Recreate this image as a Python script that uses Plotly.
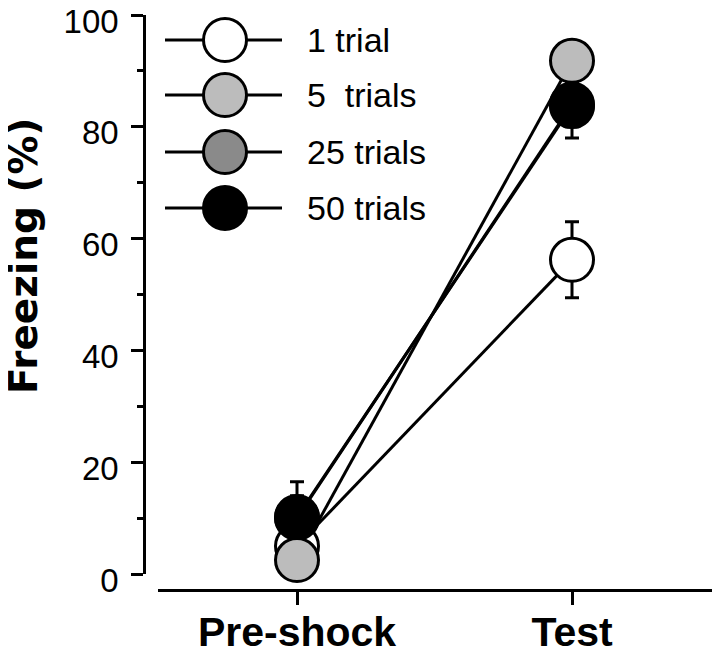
import plotly.graph_objects as go

# ---------------- data ----------------
categories = ["Pre-shock", "Test"]
series_names = ["1 trial", "5\u00a0 trials", "25 trials", "50 trials"]
trial1 = [5.0, 56.2]
trial1_err = [3.0, 6.8]
trial5 = [2.5, 91.8]
trial5_err = [2.0, 3.0]
trial25 = [10.0, 84.0]
trial25_err = [4.0, 4.0]
trial50 = [10.2, 83.7]
trial50_err = [6.3, 5.7]
y_tick_vals = [0, 20, 40, 60, 80, 100]
y_tick_text = ["0", "20", "40", "60", "80", "100"]

values = [trial1, trial5, trial25, trial50]
errors = [trial1_err, trial5_err, trial25_err, trial50_err]
fills = ["#ffffff", "#bcbcbc", "#8a8a8a", "#000000"]

# figure fits inside the page body (8px margins)
W, H = 704, 644
OFF = 8
MS = 43
MLW = 3

fig = go.Figure()

# connecting lines first (all series)
for vals in values:
    fig.add_trace(go.Scatter(
        x=categories, y=vals, mode="lines",
        line=dict(color="black", width=3),
        showlegend=False, hoverinfo="skip", cliponaxis=False))

# markers + error bars, in stacking order
for i in [0, 2, 3, 1]:
    fig.add_trace(go.Scatter(
        x=categories, y=values[i], mode="markers",
        marker=dict(size=MS, color=fills[i], line=dict(color="black", width=MLW)),
        error_y=dict(type="data", array=errors[i], visible=True,
                     color="black", thickness=3, width=7),
        showlegend=False, cliponaxis=False, name=series_names[i]))

# ---------------- custom legend (hidden axes in page-pixel units) ----------------
leg_rows = [40, 95, 152, 208]
for i, name in enumerate(series_names):
    r = leg_rows[i]
    fig.add_trace(go.Scatter(
        x=[165, 282], y=[r, r], mode="lines", line=dict(color="black", width=3),
        xaxis="x2", yaxis="y2", showlegend=False, hoverinfo="skip", cliponaxis=False))
    fig.add_trace(go.Scatter(
        x=[225], y=[r], mode="markers",
        marker=dict(size=MS, color=fills[i], line=dict(color="black", width=MLW)),
        xaxis="x2", yaxis="y2", showlegend=False, hoverinfo="skip", cliponaxis=False))
    fig.add_annotation(x=305, y=r, xref="x2", yref="y2", text=name, showarrow=False,
                       xanchor="left", yanchor="middle",
                       font=dict(family="Liberation Sans, Arial", size=34, color="black"))

# y-axis title
fig.add_annotation(x=(24 - OFF) / W, y=(H - (256 - OFF)) / H, xref="paper", yref="paper",
                   text="<b>Freezing (%)</b>", textangle=-90, showarrow=False,
                   xanchor="center", yanchor="middle",
                   font=dict(family="DejaVu Sans", size=39, color="black"))

px0 = 297 - OFF   # Pre-shock pixel
unit = 275.0
x_left = 158 - OFF
x_right = W

fig.update_layout(
    template="none",
    width=W, height=H, autosize=False,
    margin=dict(l=0, r=0, t=0, b=0, pad=0),
    paper_bgcolor="white", plot_bgcolor="rgba(0,0,0,0)",
    xaxis=dict(
        type="category", domain=[x_left / W, 1.0],
        range=[(x_left - px0) / unit, (x_right - px0) / unit],
        anchor="free", position=(H - (590 - OFF)) / H, automargin=False,
        showline=True, linecolor="black", linewidth=2.5,
        ticks="outside", ticklen=13, tickwidth=3, tickcolor="black",
        showgrid=False, zeroline=False,
        tickfont=dict(family="Liberation Sans, Arial", size=41, color="black", weight="bold"),
        ticklabelstandoff=-8, ticklabeloverflow="allow",
    ),
    yaxis=dict(
        domain=[(H - (574 - OFF)) / H, (H - (15 - OFF)) / H], range=[0, 100],
        anchor="free", position=(144 - OFF) / W, automargin=False,
        showline=True, linecolor="black", linewidth=2.5,
        ticks="outside", ticklen=12, tickwidth=2.5, tickcolor="black",
        tickvals=y_tick_vals, ticktext=y_tick_text,
        minor=dict(dtick=10, tick0=0, ticks="outside", ticklen=6, tickwidth=2.5, tickcolor="black"),
        showgrid=False, zeroline=False,
        tickfont=dict(family="Liberation Sans, Arial", size=33, color="black"),
        ticklabelstandoff=6, ticklabelshift=6, ticklabeloverflow="allow",
    ),
    xaxis2=dict(domain=[0, 1], range=[OFF, W + OFF], visible=False, anchor="y2", automargin=False),
    yaxis2=dict(domain=[0, 1], range=[H + OFF, OFF], visible=False, anchor="x2", automargin=False),
)

fig.write_html("out.html")
